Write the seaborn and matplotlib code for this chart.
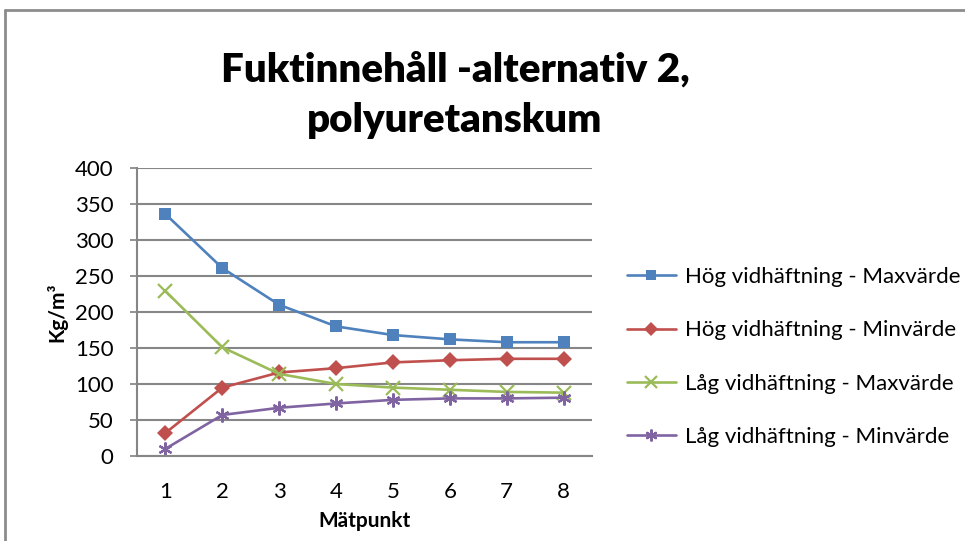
import pandas as pd
import seaborn as sns
import matplotlib.pyplot as plt
from matplotlib.lines import Line2D

sns.set_theme(style="white")
plt.rcParams["font.family"] = ["Lato", "DejaVu Sans"]
plt.rcParams["text.color"] = "black"
plt.rcParams["axes.labelcolor"] = "black"
plt.rcParams["xtick.color"] = "black"
plt.rcParams["ytick.color"] = "black"

MATPUNKT = [1, 2, 3, 4, 5, 6, 7, 8]
HOG_MAX = [336, 261, 210, 180, 168, 162, 158, 158]
HOG_MIN = [32, 95, 116, 122, 130, 133, 135, 135]
LAG_MAX = [229, 151, 114, 100, 95, 92, 89, 88]
LAG_MIN = [10, 57, 67, 73, 78, 80, 80, 81]

SERIES = {
    "Hög vidhäftning - Maxvärde": HOG_MAX,
    "Hög vidhäftning - Minvärde": HOG_MIN,
    "Låg vidhäftning - Maxvärde": LAG_MAX,
    "Låg vidhäftning - Minvärde": LAG_MIN,
}
COLORS = ["#4F81BD", "#C0504D", "#9BBB59", "#8064A2"]
MARKERS = ["s", "D", "x", (6, 2, 0)]
SIZES = [9, 8, 10, 10]

rows = []
for name, vals in SERIES.items():
    for x, v in zip(MATPUNKT, vals):
        rows.append({"Mätpunkt": x, "value": v, "serie": name})
df = pd.DataFrame(rows)

fig = plt.figure(figsize=(9.65, 5.41), dpi=100)
ax = fig.add_axes([137 / 965, 1 - 456 / 541, (592 - 137) / 965, (456 - 168) / 541])

handles = []
for (name, _), color, marker, size in zip(SERIES.items(), COLORS, MARKERS, SIZES):
    sub = df[df["serie"] == name]
    mew = 1.6 if marker == "x" or isinstance(marker, tuple) else 0
    sns.lineplot(data=sub, x="Mätpunkt", y="value", ax=ax, color=color,
                 marker=marker, markersize=size, markeredgewidth=mew,
                 markeredgecolor=color, linewidth=1.9, legend=False)
    handles.append(Line2D([], [], color=color, marker=marker, markersize=size * 0.85,
                          markeredgecolor=color, markeredgewidth=mew,
                          linewidth=1.9, label=name))

ax.set_xlim(0.5, 8.5)
ax.set_ylim(0, 400)
ax.set_xticks(MATPUNKT)
ax.set_yticks(range(0, 401, 50))
ax.yaxis.grid(True, color="#868686", linewidth=1.5)
ax.xaxis.grid(False)
for side in ["top", "right"]:
    ax.spines[side].set_visible(False)
for side in ["left", "bottom"]:
    ax.spines[side].set_color("#868686")
    ax.spines[side].set_linewidth(1.5)
ax.tick_params(axis="y", which="major", left=True, length=5, color="#868686", labelsize=16, pad=12)
ax.tick_params(axis="x", which="major", bottom=False, labelsize=16, pad=13)
ax.set_xlabel("Mätpunkt", fontsize=15, fontweight="bold", labelpad=6)
ax.set_ylabel("Kg/m³", fontsize=15, fontweight="bold", labelpad=5)

fig.text(455 / 965, 1 - 95 / 541, "Fuktinnehåll -alternativ 2,\npolyuretanskum",
         ha="center", va="center", fontsize=29, fontweight="heavy", linespacing=1.45)

fig.legend(handles=handles, loc="center left", bbox_to_anchor=(627 / 965, 1 - 357 / 541),
           frameon=False, fontsize=16, handlelength=2.2, handletextpad=0.4,
           labelspacing=1.5, borderpad=0, borderaxespad=0)

fig.add_artist(Line2D([5 / 965, 1], [1 - 10 / 541, 1 - 10 / 541], color="#8C8C8C", linewidth=2))
fig.add_artist(Line2D([5 / 965, 5 / 965], [0, 1 - 10 / 541], color="#8C8C8C", linewidth=2))

fig.savefig("out.png", dpi=100)
